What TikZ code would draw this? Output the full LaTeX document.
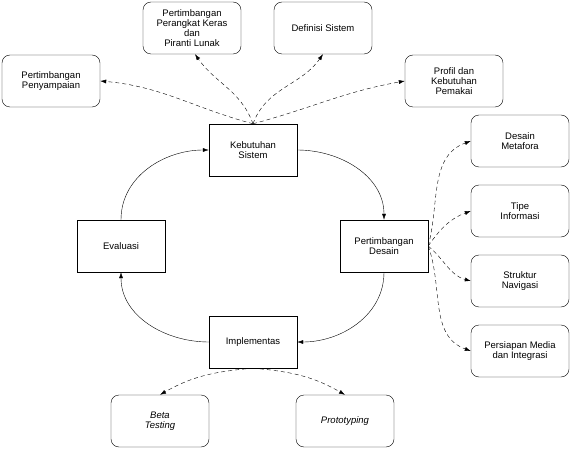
\documentclass[tikz,border=0pt]{standalone}
\usepackage{fontspec}
\setmainfont{Liberation Sans}
\usetikzlibrary{arrows.meta}

\tikzset{
    box/.style={draw, rounded corners=8pt, minimum width=98pt, minimum height=52pt,
        align=center, font=\fontsize{9.5}{10}\selectfont},
    stage/.style={draw, minimum width=88pt, minimum height=52pt,
        align=center, font=\fontsize{9.5}{10}\selectfont},
    flow/.style={thin, -{Latex[length=6pt,width=4pt]}},
    link/.style={thin, dash pattern=on 4pt off 3pt, -{Latex[length=6pt,width=4pt]}},
}

\begin{document}
\begin{tikzpicture}[x=1pt, y=-1pt]
    \useasboundingbox (0, 0) rectangle (570, 449);
    % siklus utama
    \node[stage] (kebutuhan) at (253, 150) {Kebutuhan\\Sistem};
    \node[stage] (desain) at (384, 246) {Pertimbangan\\Desain};
    \node[stage] (implementasi) at (253, 342) {Implementas};
    \node[stage] (evaluasi) at (121, 246) {Evaluasi};
    \draw[flow] (kebutuhan.east) to[out=0, in=90] (desain.north);
    \draw[flow] (desain.south) to[out=-90, in=0] (implementasi.east);
    \draw[flow] (implementasi.west) to[out=180, in=-90] (evaluasi.south);
    \draw[flow] (evaluasi.north) to[out=90, in=180] (kebutuhan.west);
    % kebutuhan sistem
    \node[box] (penyampaian) at (51, 81) {Pertimbangan\\Penyampaian};
    \node[box] (perangkat) at (192, 28) {Pertimbangan\\Perangkat Keras\\dan\\Piranti Lunak};
    \node[box] (definisi) at (323, 28) {Definisi Sistem};
    \node[box] (profil) at (454, 81) {Profil dan\\Kebutuhan\\Pemakai};
    \draw[link] (kebutuhan.north) to[out=165, in=-5] (penyampaian.east);
    \draw[link] (kebutuhan.north) to[out=110, in=-55] ([xshift=3pt]perangkat.south);
    \draw[link] (kebutuhan.north) to[out=70, in=-125] (definisi.south);
    \draw[link] (kebutuhan.north) to[out=15, in=190] (profil.west);
    % pertimbangan desain
    \node[box] (metafora) at (520, 141) {Desain\\Metafora};
    \node[box] (tipe) at (520, 211) {Tipe\\Informasi};
    \node[box] (navigasi) at (520, 281) {Struktur\\Navigasi};
    \node[box] (media) at (520, 351) {Persiapan Media\\dan Integrasi};
    \draw[link] (desain.east) to[out=75, in=200] (metafora.west);
    \draw[link] (desain.east) to[out=55, in=200] (tipe.west);
    \draw[link] (desain.east) to[out=-40, in=165] (navigasi.west);
    \draw[link] (desain.east) to[out=-70, in=160] (media.west);
    % implementasi
    \node[box] (beta) at (160, 421) {\itshape Beta\\\itshape Testing};
    \node[box] (prototipe) at (345, 421) {\itshape Prototyping};
    \draw[link] (implementasi.south) to[out=185, in=30] (beta.north);
    \draw[link] (implementasi.south) to[out=-5, in=150] (prototipe.north);
\end{tikzpicture}
\end{document}
